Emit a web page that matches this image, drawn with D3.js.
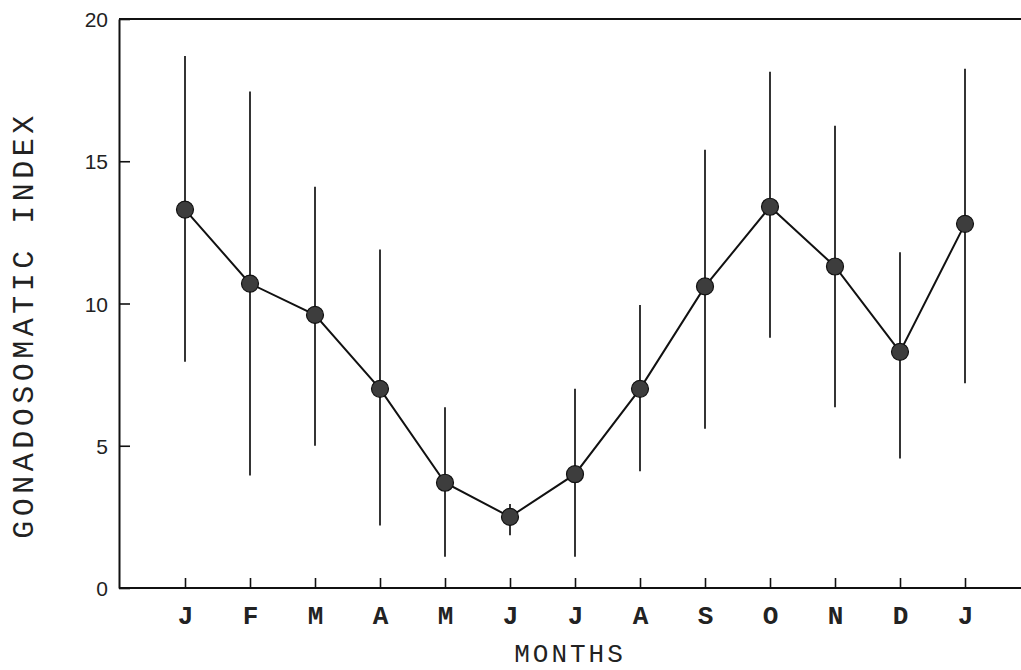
<!DOCTYPE html>
<html><head><meta charset="utf-8">
<script src="https://cdn.jsdelivr.net/npm/d3@7"></script>
<style>body{margin:0;background:#fff;}svg{display:block;}</style>
</head><body>
<svg id="c" width="1021" height="670"></svg>
<script>
const months = ["J","F","M","A","M","J","J","A","S","O","N","D","J"];
const gsiMean = [13.3,10.7,9.6,7.0,3.7,2.5,4.0,7.0,10.6,13.4,11.3,8.3,12.8];
const gsiHigh = [18.7,17.45,14.1,11.9,6.35,2.95,7.0,9.95,15.4,18.15,16.25,11.8,18.25];
const gsiLow  = [7.95,3.95,5.0,2.2,1.1,1.85,1.1,4.1,5.6,8.8,6.35,4.55,7.2];
const yTicks = [0,5,10,15,20];

(function(){
const svg = d3.select("#c");
const mL = 119, mR = 1021, mT = 19, mB = 588;
const idx = d3.range(months.length);
const x = d3.scalePoint().domain(idx).range([185, 965]);
const y = d3.scaleLinear().domain([0,20]).range([mB, mT]);

// frame
svg.append("line").attr("x1",mL).attr("x2",mR).attr("y1",mT).attr("y2",mT)
  .attr("stroke","#111").attr("stroke-width",2);

// y axis
const gy = svg.append("g").attr("transform",`translate(${mL},0)`)
  .call(d3.axisLeft(y).tickValues(yTicks).tickSizeInner(-11).tickSizeOuter(0).tickPadding(11));
gy.select(".domain").attr("stroke","#111").attr("stroke-width",2);
gy.selectAll(".tick line").attr("stroke","#111").attr("stroke-width",1.6);
gy.selectAll(".tick text").attr("font-family","'Liberation Sans', Arial, sans-serif")
  .attr("font-size",21).attr("fill","#222").attr("dy","0.36em");

// x axis
const gx = svg.append("g").attr("transform",`translate(0,${mB})`)
  .call(d3.axisBottom(x).tickFormat(i => months[i]).tickSizeInner(-10).tickSizeOuter(0).tickPadding(12));
gx.select(".domain").attr("d",`M${mL},0H${mR}`).attr("stroke","#111").attr("stroke-width",2);
gx.selectAll(".tick line").attr("stroke","#111").attr("stroke-width",1.6);
gx.selectAll(".tick text").attr("font-family","'Liberation Mono', 'Courier New', monospace")
  .attr("font-size",26).attr("font-weight","bold").attr("fill","#222").attr("y",18).attr("dy","0.71em");

// error bars
svg.append("g").selectAll("line").data(idx).join("line")
  .attr("x1",i=>x(i)).attr("x2",i=>x(i))
  .attr("y1",i=>y(gsiHigh[i])).attr("y2",i=>y(gsiLow[i]))
  .attr("stroke","#111").attr("stroke-width",1.7);

// connecting line
svg.append("path").datum(idx)
  .attr("d", d3.line().x(i=>x(i)).y(i=>y(gsiMean[i])))
  .attr("fill","none").attr("stroke","#111").attr("stroke-width",2);

// markers
svg.append("g").selectAll("circle").data(idx).join("circle")
  .attr("cx",i=>x(i)).attr("cy",i=>y(gsiMean[i])).attr("r",8.5)
  .attr("fill","#3d3d3d").attr("stroke","#111").attr("stroke-width",1.2);

// titles
svg.append("text").attr("x",570).attr("y",662).attr("text-anchor","middle")
  .attr("font-family","'Liberation Mono', 'Courier New', monospace").attr("font-size",26)
  .attr("letter-spacing",3).attr("fill","#222").text("MONTHS");
svg.append("text").attr("transform","translate(33,325) rotate(-90)").attr("text-anchor","middle")
  .attr("font-family","'Liberation Mono', 'Courier New', monospace").attr("font-size",30)
  .attr("letter-spacing",4.5).attr("fill","#222").text("GONADOSOMATIC INDEX");
})();
</script>
</body></html>
